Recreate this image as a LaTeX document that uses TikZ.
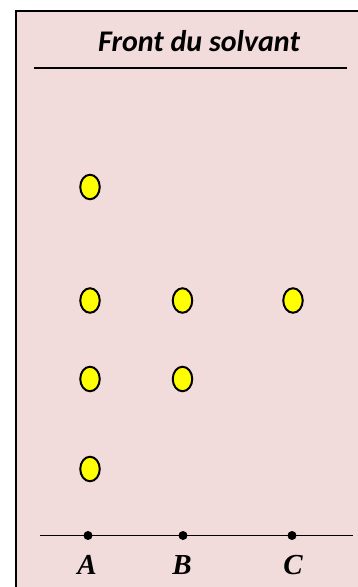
\documentclass[tikz,border=0pt]{standalone}
\usepackage{fontspec}
\usetikzlibrary{shapes.geometric}
\setmainfont{Carlito}
\newfontfamily\labelfont{Liberation Serif}
\definecolor{platebg}{HTML}{F2DCDB}
\definecolor{spotfill}{HTML}{FFFF00}
\begin{document}
\begin{tikzpicture}[x=1pt,y=-1pt,
  spot/.style={ellipse,draw=black,line width=2pt,fill=spotfill,minimum width=19.5pt,minimum height=24.5pt,inner sep=0pt},
  depot/.style={circle,fill=black,minimum size=9pt,inner sep=0pt},
  letter/.style={font=\labelfont\bfseries\itshape\fontsize{29}{29}\selectfont,inner sep=0pt,anchor=base}]
\useasboundingbox (0,0) rectangle (357,587);
\draw[fill=platebg,line width=2.2pt] (16.2,11.2) rectangle (362,592);
\node[font=\bfseries\itshape\fontsize{30}{32}\selectfont,inner sep=0pt,anchor=base] (front) at (199,51) {Front du solvant};
\coordinate (f1) at (34,68);
\coordinate (f2) at (347,68);
\draw[line width=1.5pt] (f1) -- (f2);
\coordinate (d1) at (40,535.5);
\coordinate (d2) at (353,535.5);
\draw[line width=1.8pt] (d1) -- (d2);
\node[depot] (pA) at (88,535.5) {};
\node[depot] (pB) at (183,535.5) {};
\node[depot] (pC) at (292,535.5) {};
\node[letter] (lA) at (87,574) {A};
\node[letter] (lB) at (182,574) {B};
\node[letter] (lC) at (293,574) {C};
\node[spot] (a1) at (90,187) {};
\node[spot] (a2) at (90,300.5) {};
\node[spot] (a3) at (90,379) {};
\node[spot] (a4) at (90,469) {};
\node[spot] (b1) at (182.5,300.5) {};
\node[spot] (b2) at (182.5,379) {};
\node[spot] (c1) at (293,300.5) {};
\end{tikzpicture}
\end{document}
